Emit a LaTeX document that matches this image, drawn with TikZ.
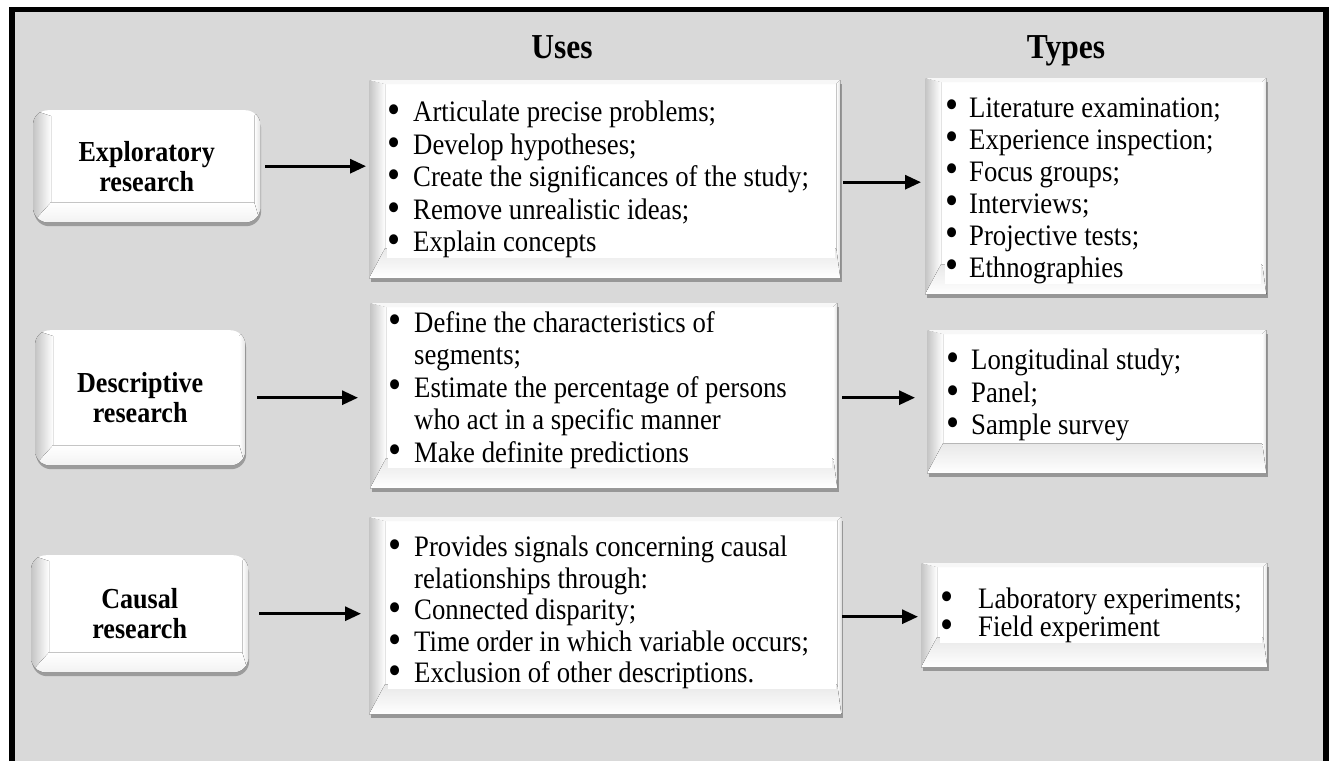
\documentclass[tikz,border=0pt]{standalone}
\usepackage{fontspec}
\setmainfont{Liberation Serif}[FakeStretch=0.9]
\usepackage{graphicx}
\usetikzlibrary{shadows,arrows.meta,calc}
\definecolor{bg}{HTML}{D9D9D9}
\definecolor{bevL}{HTML}{C4C4C4}
\definecolor{bevB}{HTML}{E8E8E8}
\newlength\bli
\newcommand\bmark{\makebox[\bli][l]{\raisebox{-0.06em}{\scalebox{1.4}{\textbullet}}}}
\newcommand\bfirst{\spaceskip=6.7pt\relax\xspaceskip=6.7pt\relax\noindent\hangindent=\bli\hangafter=1\rule{0pt}{20pt}\bmark}
\newcommand\bl{\par\noindent\hangindent=\bli\hangafter=1\rule{0pt}{20pt}\bmark}
\newcommand\rbevel[1]{%
  \fill[left color=bevL, right color=white] (#1.north west) -- ([shift={(16,-4)}]#1.north west) -- ([shift={(16,30)}]#1.south west) -- (#1.south west) -- cycle;
  \fill[top color=bevB, bottom color=white] (#1.south west) -- ([shift={(16,30)}]#1.south west) -- ([shift={(-4,30)}]#1.south east) -- (#1.south east) -- cycle;
  \fill[gray!6] (#1.north west) -- ([shift={(16,-4)}]#1.north west) -- ([shift={(-4,-4)}]#1.north east) -- (#1.north east) -- cycle;
  \fill[left color=white, right color=gray!25] (#1.north east) -- ([shift={(-4,-4)}]#1.north east) -- ([shift={(-4,30)}]#1.south east) -- (#1.south east) -- cycle;
}
\newcommand\lbevel[1]{%
  \begin{scope}
  \clip[rounded corners=15pt] (#1.south west) rectangle (#1.north east);
  \fill[left color=bevL, right color=white] (#1.north west) -- ([shift={(18,-6)}]#1.north west) -- ([shift={(18,20)}]#1.south west) -- (#1.south west) -- cycle;
  \fill[top color=white, bottom color=gray!10] (#1.south west) -- ([shift={(18,20)}]#1.south west) -- ([shift={(-6,20)}]#1.south east) -- (#1.south east) -- cycle;
  \fill[left color=white, right color=gray!22] (#1.north east) -- ([shift={(-6,-6)}]#1.north east) -- ([shift={(-6,20)}]#1.south east) -- (#1.south east) -- cycle;
  \end{scope}}
\tikzset{
  ubox/.style={fill=white, inner sep=0pt, anchor=north west,
    drop shadow={shadow xshift=1.5pt, shadow yshift=-4pt, opacity=0.3, fill=black}},
  lbox/.style={fill=white, inner sep=0pt, anchor=north west, rounded corners=15pt,
    align=center, font=\fontsize{29}{30}\selectfont\bfseries,
    drop shadow={shadow xshift=1pt, shadow yshift=-4pt, opacity=0.28, fill=black}},
  txt/.style={inner sep=0pt, anchor=north west, align=left, fill=white,
    font=\fontsize{29.7}{32.5}\selectfont},
  hdr/.style={inner sep=0pt, anchor=base, font=\fontsize{35}{38}\selectfont\bfseries},
  arr/.style={line width=3pt, -{Triangle[length=16pt,width=14pt]}},
}
\begin{document}
\begin{tikzpicture}[x=1pt,y=1pt]
\useasboundingbox (0,0) rectangle (1331,-761);
\fill[white] (0,0) rectangle (1331,-761);
\fill[bg] (12,-9.5) rectangle (1326,-761);
\draw[line width=5.5pt, line join=miter] (12,-761) -- (12,-9.5) -- (1326,-9.5) -- (1326,-761);

% headers
\node[hdr] (h1) at (562,-58) {Uses};
\node[hdr] (h2) at (1066,-58) {Types};

% left boxes
\node[lbox, minimum width=227pt, minimum height=112pt] (e1) at (33,-110) {Exploratory\\research};
\lbevel{e1}
\node[lbox, minimum width=210pt, minimum height=135pt] (e2) at (35,-330) {Descriptive\\research};
\lbevel{e2}
\node[lbox, minimum width=217pt, minimum height=117pt] (e3) at (31,-555) {Causal\\research};
\lbevel{e3}

% uses boxes
\node[ubox, minimum width=471pt, minimum height=198pt] (u1) at (369,-80) {};
\rbevel{u1}
\node[ubox, minimum width=467pt, minimum height=185pt] (u2) at (370,-303) {};
\rbevel{u2}
\node[ubox, minimum width=472pt, minimum height=197pt] (u3) at (369,-517) {};
\rbevel{u3}

% types boxes
\node[ubox, minimum width=341pt, minimum height=216pt] (t1) at (925,-78) {};
\rbevel{t1}
\node[ubox, minimum width=339pt, minimum height=143pt] (t2) at (927,-330) {};
\rbevel{t2}
\node[ubox, minimum width=346pt, minimum height=104pt] (t3) at (921,-563) {};
\rbevel{t3}

% texts
\node[txt, text width=448pt] (u1t) at (387,-101) {\setlength\bli{26pt}%
\bfirst Articulate precise problems;
\bl Develop hypotheses;
\bl Create the significances of the study;
\bl Remove unrealistic ideas;
\bl Explain concepts\par};
\node[txt, text width=444pt] (u2t) at (388,-311) {\setlength\bli{26pt}%
\bfirst Define the characteristics of\newline segments;
\bl Estimate the percentage of persons\newline who act in a specific manner
\bl Make definite predictions\par};
\node[txt, text width=448pt, font=\fontsize{29.7}{31.5}\selectfont] (u3t) at (388,-536) {\setlength\bli{26pt}%
\bfirst Provides signals concerning causal\newline relationships through:
\bl Connected disparity;
\bl Time order in which variable occurs;
\bl Exclusion of other descriptions.\par};
\node[txt, text width=316pt, font=\fontsize{29.7}{32}\selectfont] (t1t) at (945,-97) {\setlength\bli{24pt}%
\bfirst Literature examination;
\bl Experience inspection;
\bl Focus groups;
\bl Interviews;
\bl Projective tests;
\bl Ethnographies\par};
\node[txt, text width=315pt] (t2t) at (946,-349) {\setlength\bli{25pt}%
\bfirst Longitudinal study;
\bl Panel;
\bl Sample survey\par};
\node[txt, text width=322pt, font=\fontsize{29.7}{26.5}\selectfont] (t3t) at (940,-588) {\setlength\bli{38pt}%
\bfirst Laboratory experiments;
\bl Field experiment\par};

% arrows
\draw[arr, shorten <=5pt, shorten >=3pt] (e1.east) -- (e1.east -| u1.west);
\draw[arr, shorten <=12pt, shorten >=12pt] (e2.east) -- (e2.east -| u2.west);
\draw[arr, shorten <=11pt, shorten >=8pt] (e3.east) -- (e3.east -| u3.west);
\draw[arr, shorten <=3pt, shorten >=4pt] ($(u1.east)+(0,-3)$) -- ($(u1.east -| t1.west)+(0,-3)$);
\draw[arr, shorten <=5pt, shorten >=12pt] ($(u2.east)+(0,-2)$) -- ($(u2.east -| t2.west)+(0,-2)$);
\draw[arr, shorten <=1pt, shorten >=3pt] ($(u3.east)+(0,-1)$) -- ($(u3.east -| t3.west)+(0,-1)$);
\end{tikzpicture}
\end{document}
